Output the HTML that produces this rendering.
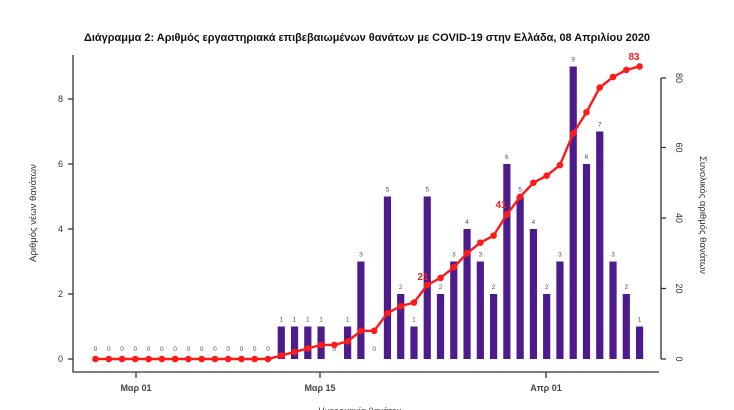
<!DOCTYPE html>
<html><head><meta charset="utf-8"><style>
html,body{margin:0;padding:0;background:#fff;width:734px;height:410px;overflow:hidden}
svg{display:block;font-family:"Liberation Sans",sans-serif}
</style></head><body>
<svg id="s" width="734" height="410" viewBox="0 0 734 410" xmlns="http://www.w3.org/2000/svg">
<text x="367" y="41" text-anchor="middle" font-size="11" font-weight="bold" fill="#111" textLength="566" lengthAdjust="spacingAndGlyphs">Διάγραμμα 2: Αριθμός εργαστηριακά επιβεβαιωμένων θανάτων με COVID-19 στην Ελλάδα, 08 Απριλίου 2020</text>
<g stroke="#333" stroke-width="1.3" fill="none">
<path d="M73 55 V372 H659"/>
<path d="M661 78 V359"/>
<path d="M68 359H73M68 294H73M68 229H73M68 164H73M68 99H73"/>
<path d="M661 359H666M661 288.5H666M661 218H666M661 147.5H666M661 78H666"/>
<path d="M136 372V378M320 372V378M546 372V378"/>
</g>
<g font-size="9" fill="#333" text-anchor="end">
<text x="63" y="362">0</text><text x="63" y="297">2</text><text x="63" y="232">4</text><text x="63" y="167">6</text><text x="63" y="102">8</text>
</g>
<g font-size="9" fill="#333" text-anchor="middle">
<text transform="translate(676,359) rotate(90)">0</text>
<text transform="translate(676,288.5) rotate(90)">20</text>
<text transform="translate(676,218) rotate(90)">40</text>
<text transform="translate(676,147.5) rotate(90)">60</text>
<text transform="translate(676,78) rotate(90)">80</text>
<text x="136" y="391" font-weight="bold" fill="#444">Μαρ 01</text>
<text x="320" y="391" font-weight="bold" fill="#444">Μαρ 15</text>
<text x="546" y="391" font-weight="bold" fill="#444">Απρ 01</text>
<text x="360" y="414" fill="#444">Ημερομηνία θανάτου</text>
<text transform="translate(36,213) rotate(-90)" font-size="9.5">Αριθμός νέων θανάτων</text>
<text transform="translate(700,215) rotate(90)" font-size="9.5">Συνολικός αριθμός θανάτων</text>
</g>
<g id="bars"></g><g id="lbl" font-size="6.5" fill="#555" text-anchor="middle"></g><g id="line"></g>
<g font-size="10" font-weight="bold" fill="#ff1a1a" text-anchor="middle">
<text x="423" y="280">21</text><text x="501" y="208">41</text><text x="634" y="60">83</text>
</g>
</svg>
<script>
var v=[0,0,0,0,0,0,0,0,0,0,0,0,0,0,1,1,1,1,0,1,3,0,5,2,1,5,2,3,4,3,2,6,5,4,2,3,9,6,7,3,2,1];
var ns="http://www.w3.org/2000/svg",b="",l="",pts=[],c=0;
for(var i=0;i<v.length;i++){var x=95.5+13.27*i;c+=v[i];
 if(v[i]>0){var h=v[i]*32.5;b+='<rect x="'+(x-3.6)+'" y="'+(359-h)+'" width="7.2" height="'+h+'" fill="#4d1b8c"/>';
  l+='<text x="'+x+'" y="'+(359-h-5)+'">'+v[i]+'</text>';}
 else l+='<text x="'+x+'" y="351">0</text>';
 pts.push([x,359-c*3.525]);}
var p="M"+pts.map(function(q){return q[0]+" "+q[1]}).join(" L"),d='<path d="'+p+'" stroke="#ff1a1a" stroke-width="2.4" fill="none"/>';
pts.forEach(function(q){d+='<circle cx="'+q[0]+'" cy="'+q[1]+'" r="3.3" fill="#ff1a1a"/>'});
document.getElementById("bars").innerHTML=b;document.getElementById("lbl").innerHTML=l;document.getElementById("line").innerHTML=d;
</script>
</body></html>
